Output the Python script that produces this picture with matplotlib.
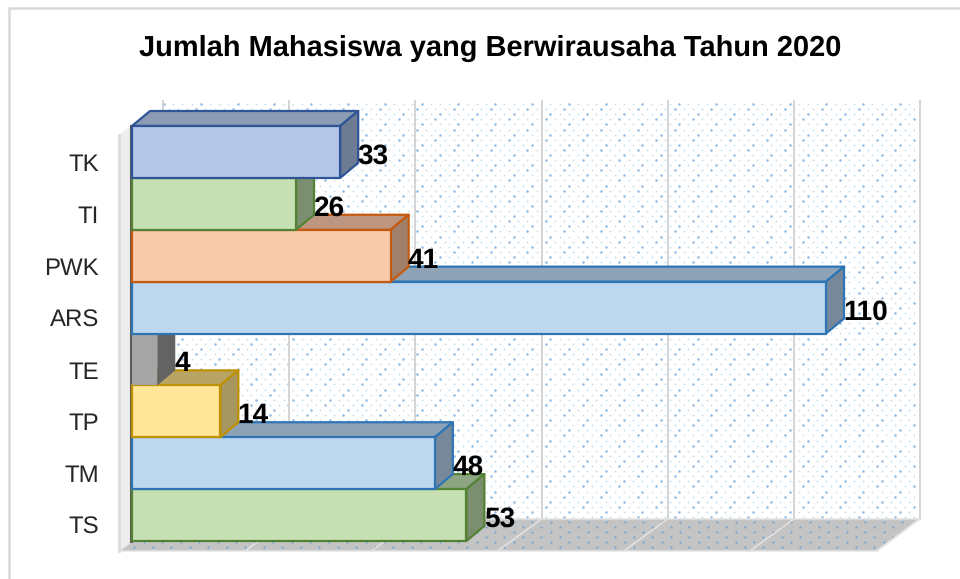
import numpy as np
import matplotlib
matplotlib.use("Agg")
import matplotlib.pyplot as plt
from matplotlib.patches import Polygon

TITLE = "Jumlah Mahasiswa yang Berwirausaha Tahun 2020"
categories = ["TS", "TM", "TP", "TE", "ARS", "PWK", "TI", "TK"]
values = [53, 48, 14, 4, 110, 41, 26, 33]
front_colors = ["#C6E0B4", "#BDD7EE", "#FFE699", "#A5A5A5", "#BDD7EE", "#F8CBAD", "#C6E0B4", "#B4C7E7"]
edge_colors = ["#548235", "#2E75B6", "#BF9000", "none", "#2E75B6", "#C55A11", "#548235", "#2F5597"]
side_colors = ["#7B8F70", "#76889A", "#A6965F", "#636363", "#76889A", "#A07F6B", "#7B8F70", "#6D7C93"]
top_colors = ["#8DA583", "#8DA2B5", "#B8A566", "#777777", "#8DA2B5", "#BC9680", "#8DA583", "#8A9BB3"]
x_grid = [0, 20, 40, 60, 80, 100, 120]

# pixel scale of the front plane
PX_PER_UNIT = (826 - 132) / 110
PX_PER_ROW = (541 - 126) / 8
W, H = 960, 579
DEPTH_X = 18 / PX_PER_UNIT
DEPTH_Y = 15 / PX_PER_ROW


def to_x(px):
    return (px - 132) / PX_PER_UNIT


def to_y(py):
    return (541 - py) / PX_PER_ROW


plt.rcParams["font.family"] = ["Liberation Sans", "DejaVu Sans"]
plt.rcParams["text.hinting"] = "no_hinting"
plt.rcParams["text.hinting_factor"] = 1
fig = plt.figure(figsize=(W / 100, H / 100), dpi=100)
ax = fig.add_axes([0, 0, 1, 1])
ax.set_xlim(to_x(0), to_x(W))
ax.set_ylim(to_y(H), to_y(0))
ax.axis("off")

# chart frame, only top and left are in the crop
ax.plot([to_x(960), to_x(9), to_x(9)], [to_y(8), to_y(8), to_y(579)], color="#D9D9D9", lw=1.8, zorder=0)

# dotted back wall and floor
wx, wy = np.meshgrid(np.arange(164, 916, 9.2), np.arange(104, 518, 5.1))
rows = np.arange(wx.shape[0])[:, None]
cols = np.arange(wx.shape[1])[None, :]
wx = wx + 4.6 * (rows % 2)
strong = (rows + cols) % 4 == 0
ax.scatter(to_x(wx[strong]), to_y(wy[strong]), s=3.4, color="#8FBCE4", lw=0, zorder=1)
ax.scatter(to_x(wx[~strong]), to_y(wy[~strong]), s=1.6, color="#C4DDF2", lw=0, zorder=1)

ax.add_patch(Polygon([(to_x(132), to_y(541)), (to_x(150), to_y(519)), (to_x(919), to_y(519)),
                      (to_x(877), to_y(551)), (to_x(119), to_y(551))],
                     closed=True, fc="#C4C4C4", ec="#E3E3E3", lw=1, zorder=2))
fx, fy = np.meshgrid(np.arange(125, 905, 18.5), np.arange(522, 550, 5.0))
fx = fx + 9.2 * (np.arange(fx.shape[0])[:, None] % 2)
keep = (fx < 877 + (550 - fy) * 1.3) & (fx > 134)
ax.scatter(to_x(fx[keep]), to_y(fy[keep]), s=2.6, color="#7AA5CC", lw=0, zorder=3)

# gridlines on wall and floor
for g in x_grid:
    back = 163 + g * PX_PER_UNIT
    ax.plot([to_x(back)] * 2, [to_y(101), to_y(519)], color="#D4D4D4", lw=1.4, zorder=2)
    ax.plot([to_x(back), to_x(back - 44)], [to_y(519), to_y(551)], color="#E3E3E3", lw=1.1, zorder=3)

# left wall
ax.add_patch(Polygon([(to_x(119), to_y(135)), (to_x(132), to_y(125)), (to_x(132), to_y(541)), (to_x(119), to_y(551))],
                     closed=True, fc="#EDEDED", ec="none", zorder=3))
ax.plot([to_x(119), to_x(119)], [to_y(135), to_y(551)], color="#DCDCDC", lw=2.0, zorder=3)
ax.plot([to_x(131), to_x(131)], [0, len(categories)], color="#595959", lw=2.2, zorder=4)

# bars, bottom row first: each row above covers the top face of the one below
z = 5
for i in range(len(values)):
    v = values[i]
    e = edge_colors[i]
    top = [(0, i + 1), (v, i + 1), (v + DEPTH_X, i + 1 + DEPTH_Y), (DEPTH_X, i + 1 + DEPTH_Y)]
    side = [(v, i), (v + DEPTH_X, i + DEPTH_Y), (v + DEPTH_X, i + 1 + DEPTH_Y), (v, i + 1)]
    front = [(0, i), (v, i), (v, i + 1), (0, i + 1)]
    ax.add_patch(Polygon(top, closed=True, fc=top_colors[i], ec=e, lw=1.6, joinstyle="round", zorder=z))
    ax.add_patch(Polygon(side, closed=True, fc=side_colors[i], ec=e, lw=1.6, joinstyle="round", zorder=z))
    ax.add_patch(Polygon(front, closed=True, fc=front_colors[i], ec=e, lw=1.6, joinstyle="round", zorder=z + 1))
    ax.text(v + DEPTH_X - 0.1, i + 0.41, str(v), ha="left", va="center", fontsize=20, fontweight="bold",
            color="black", zorder=30)
    ax.text(to_x(99), i + 0.25, categories[i], ha="right", va="center", fontsize=17, color="#262626", zorder=30)
    z += 2

ax.text(to_x(490), to_y(48), TITLE, ha="center", va="center", fontsize=21, fontweight="bold", color="black")

plt.savefig("out.png", dpi=100)
